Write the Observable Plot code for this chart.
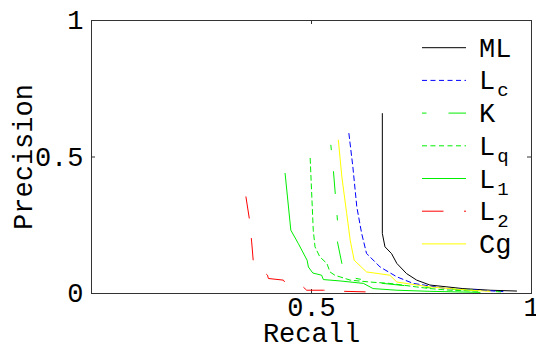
<!DOCTYPE html>
<html><head><meta charset="utf-8">
<script src="https://cdn.jsdelivr.net/npm/d3@7"></script>
<script src="https://cdn.jsdelivr.net/npm/@observablehq/plot@0.6"></script>
<style>
body{margin:0;background:#fff;}
#wrap{position:relative;width:536px;height:345px;}
#wrap svg{position:absolute;left:0;top:0;overflow:visible;}
</style></head><body><div id="wrap"></div>
<script>
const xTicks = [0.5, 1];
const xTickLabels = ["0.5", "1"];
const yTicks = [0, 0.5, 1];
const yTickLabels = ["0", "0.5", "1"];
const xTitle = "Recall";
const yTitle = "Precision";

const seriesNames = ["ML", "Lc", "K", "Lq", "L1", "L2", "Cg"];
const legendMain = ["ML", "L", "K", "L", "L", "L", "Cg"];
const legendSub = ["", "c", "", "q", "1", "2", ""];

// [recall, precision]
const ML = [[0.661,0.659],[0.661,0.22],[0.667,0.171],[0.682,0.146],[0.694,0.110],[0.716,0.073],[0.739,0.049],[0.769,0.031],[0.844,0.018],[0.906,0.012],[0.966,0.009]];
const Lc = [[0.585,0.586],[0.594,0.464],[0.603,0.317],[0.614,0.220],[0.625,0.147],[0.656,0.097],[0.694,0.061],[0.731,0.037],[0.807,0.018],[0.883,0.012],[0.935,0.007]];
const K  = [[0.544,0.543],[0.550,0.445],[0.554,0.366],[0.559,0.268],[0.559,0.189],[0.569,0.110],[0.576,0.078],[0.599,0.056],[0.656,0.038],[0.747,0.023],[0.860,0.012],[0.930,0.006]];
const Lq = [[0.497,0.495],[0.504,0.232],[0.508,0.171],[0.519,0.134],[0.535,0.110],[0.542,0.079],[0.553,0.067],[0.588,0.049],[0.633,0.042],[0.678,0.037],[0.739,0.024],[0.769,0.018],[0.815,0.012],[0.883,0.008]];
const L1 = [[0.440,0.440],[0.453,0.232],[0.470,0.183],[0.490,0.122],[0.493,0.097],[0.503,0.075],[0.523,0.067],[0.527,0.051],[0.565,0.046],[0.618,0.037],[0.640,0.018],[0.694,0.012],[0.769,0.008],[0.883,0.004]];
const L2 = [[0.351,0.354],[0.359,0.271],[0.364,0.189],[0.368,0.112],[0.400,0.067],[0.402,0.055],[0.436,0.049],[0.440,0.040],[0.481,0.024],[0.489,0.012],[0.527,0.012],[0.572,0.008],[0.622,0.006]];
const Cg = [[0.561,0.562],[0.569,0.427],[0.580,0.293],[0.588,0.195],[0.597,0.122],[0.625,0.079],[0.678,0.067],[0.694,0.042],[0.769,0.024],[0.860,0.012],[0.906,0.008]];

const seriesData = [ML, Lc, K, Lq, L1, L2, Cg];
const colors = ["#000000", "#0000ff", "#00ee00", "#00ee00", "#00ee00", "#ff0000", "#ffff00"];
const dashes = [null, "5,3.5", "4.5,22,22,22", "5,3.5", null, "21.5,20.5", null];

const FONT = "'Liberation Mono','Courier New',monospace";
const FS = 27;

const marks = [
  Plot.frame({stroke: "#333"}),
  Plot.ruleX(xTicks, {x: d => d, insetTop: 269, stroke: "#333"}),
  Plot.ruleX(xTicks, {x: d => d, insetBottom: 269, stroke: "#333"}),
  Plot.ruleY(yTicks, {y: d => d, insetRight: 436, stroke: "#333"}),
  Plot.ruleY(yTicks, {y: d => d, insetLeft: 436, stroke: "#333"}),
  Plot.axisX(xTicks, {tickSize: 0, tickPadding: 3, fontSize: FS, tickFormat: d => xTickLabels[xTicks.indexOf(d)], label: null}),
  Plot.axisY(yTicks, {tickSize: 0, tickPadding: 8, fontSize: FS, tickFormat: d => yTickLabels[yTicks.indexOf(d)], label: null}),
  Plot.text([xTitle], {frameAnchor: "bottom", dy: 48, lineAnchor: "bottom", fontSize: FS}),
  Plot.text([yTitle], {frameAnchor: "left", dx: -68, rotate: -90, textAnchor: "middle", lineAnchor: "middle", fontSize: FS})
];
seriesData.forEach((data, i) => {
  marks.push(Plot.line(data, {x: d => d[0], y: d => d[1], stroke: colors[i], strokeWidth: 1, strokeDasharray: dashes[i]}));
});

const plot = Plot.plot({
  width: 536, height: 345,
  marginLeft: 91, marginRight: 5, marginTop: 20, marginBottom: 52,
  x: {domain: [0, 1]},
  y: {domain: [0, 1]},
  style: {fontFamily: FONT, fontSize: FS + "px", background: "transparent", color: "#000", overflow: "visible"},
  marks
});
const wrap = document.getElementById("wrap");
wrap.appendChild(plot);

// legend overlay
const leg = d3.select(wrap).append("svg").attr("width", 536).attr("height", 345)
  .style("font-family", FONT);
seriesNames.forEach((name, i) => {
  const y = 47.7 + i * 32.7;
  leg.append("line").attr("x1", 422).attr("x2", 466).attr("y1", y).attr("y2", y)
    .attr("stroke", colors[i]).attr("stroke-width", 1)
    .attr("stroke-dasharray", dashes[i]);
  const t = leg.append("text").attr("x", 479).attr("y", y + 9).attr("font-size", FS).attr("fill", "#000");
  t.append("tspan").text(legendMain[i]);
  if (legendSub[i]) t.append("tspan").attr("font-size", 19).attr("dx", 2).attr("dy", 7).text(legendSub[i]);
});
</script></body></html>
